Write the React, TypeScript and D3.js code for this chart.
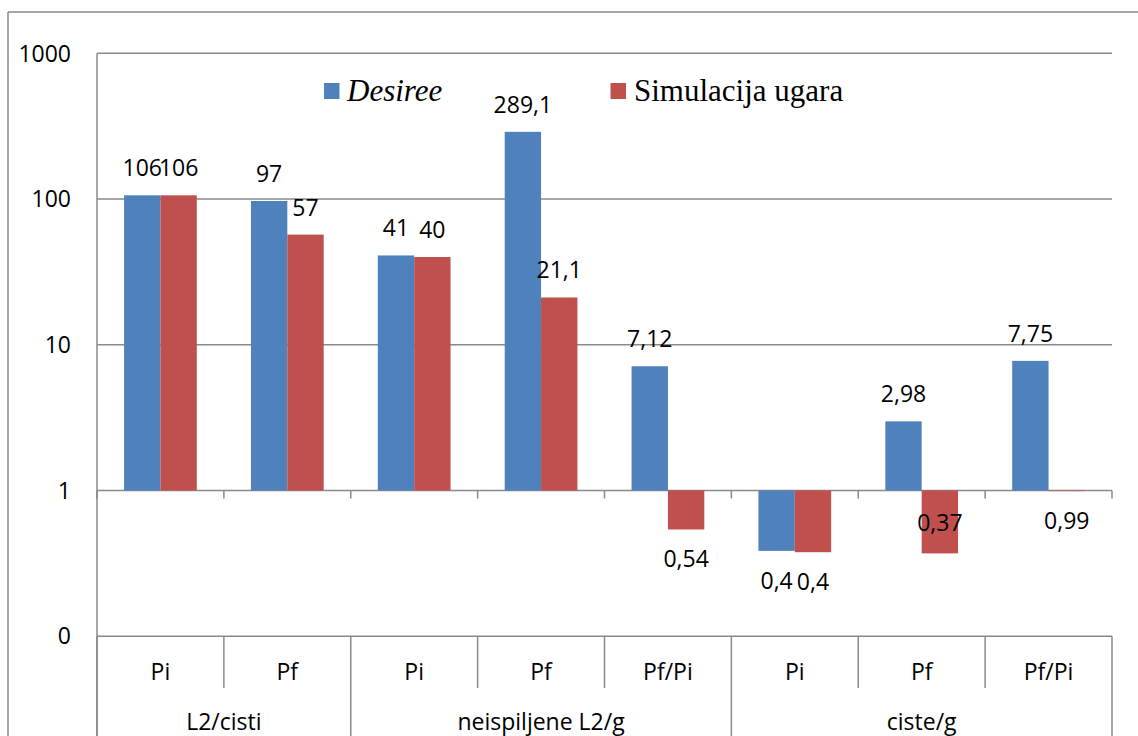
import React from "react";
import * as d3 from "d3";

const categories = ["Pi", "Pf", "Pi", "Pf", "Pf/Pi", "Pi", "Pf", "Pf/Pi"];
const groups = ["L2/cisti", "neispiljene L2/g", "ciste/g"];
const groupSizes = [2, 3, 3];
const seriesNames = ["Desiree", "Simulacija ugara"];
const desireeValues = [106, 97, 41, 289.1, 7.12, 0.385, 2.98, 7.75];
const simulacijaValues = [106, 57, 40, 21.1, 0.54, 0.377, 0.37, 0.99];
const desireeLabels = ["106", "97", "41", "289,1", "7,12", "0,4", "2,98", "7,75"];
const simulacijaLabels = ["106", "57", "40", "21,1", "0,54", "0,4", "0,37", "0,99"];
const yTicks = [0.1, 1, 10, 100, 1000];
const yTickLabels = ["0", "1", "10", "100", "1000"];

const W = 1138;
const H = 736;
const plot = { left: 97, right: 1112, top: 53.3, bottom: 636.2 };
const GRID = "#8a8a8a";
const COLORS = ["#4F81BD", "#C0504D"];
const SANS = "'Open Sans', 'Noto Sans', sans-serif";
const SERIF = "'Liberation Serif', 'Times New Roman', serif";

export default function App() {
  const y = d3.scaleLog().domain([0.1, 1000]).range([plot.bottom, plot.top]);
  const x0 = d3
    .scaleBand<number>()
    .domain(categories.map((_, i) => i))
    .range([plot.left, plot.right])
    .paddingInner(0)
    .paddingOuter(0);
  const bw = x0.bandwidth();
  const x1 = d3
    .scaleBand<string>()
    .domain(seriesNames)
    .range([bw * 0.2134, bw * 0.7866])
    .padding(0);
  const base = y(1);
  const series = [
    { name: seriesNames[0], values: desireeValues, labels: desireeLabels },
    { name: seriesNames[1], values: simulacijaValues, labels: simulacijaLabels },
  ];

  // group boundaries
  const groupBounds: { start: number; end: number; name: string }[] = [];
  let acc = 0;
  groups.forEach((g, gi) => {
    const s = acc;
    acc += groupSizes[gi];
    groupBounds.push({ start: s, end: acc, name: g });
  });
  const groupEdgeIdx = new Set<number>([0, ...groupBounds.map((g) => g.end)]);
  const catEdges = d3.range(categories.length + 1).map((i) =>
    i < categories.length ? (x0(i) as number) : plot.right
  );

  const rowCatMid = 680;
  const rowGroupBase = 730;

  return (
    <svg
      width={W}
      height={H}
      style={{ position: "absolute", left: 0, top: 0, background: "#fff" }}
      xmlns="http://www.w3.org/2000/svg"
    >
      <rect x={0} y={0} width={W} height={H} fill="#fff" />
      {/* outer chart frame */}
      <line x1={8} y1={12} x2={W} y2={12} stroke={GRID} strokeWidth={1.5} />
      <line x1={8} y1={12} x2={8} y2={H} stroke={GRID} strokeWidth={1.5} />

      {/* gridlines */}
      {yTicks.map((t) => (
        <line
          key={"g" + t}
          x1={plot.left}
          x2={plot.right}
          y1={y(t)}
          y2={y(t)}
          stroke={GRID}
          strokeWidth={1.5}
        />
      ))}
      {/* y axis line */}
      <line x1={plot.left} x2={plot.left} y1={plot.top} y2={H} stroke={GRID} strokeWidth={1.5} />
      {/* y tick labels */}
      {yTicks.map((t, i) => (
        <text
          key={"yl" + t}
          x={71}
          y={y(t)}
          dy="0.36em"
          textAnchor="end"
          fontFamily={SANS}
          fontSize={23}
          fill="#000"
        >
          {yTickLabels[i]}
        </text>
      ))}

      {/* tick marks below axis at 1 */}
      {catEdges.map((xe, i) => (
        <line key={"tk" + i} x1={xe} x2={xe} y1={base} y2={base + 8} stroke={GRID} strokeWidth={1.5} />
      ))}

      {/* category dividers */}
      {catEdges.map((xe, i) => (
        <line
          key={"cd" + i}
          x1={xe}
          x2={xe}
          y1={plot.bottom}
          y2={groupEdgeIdx.has(i) ? H : 688}
          stroke={GRID}
          strokeWidth={1.5}
        />
      ))}

      {/* bars */}
      {series.map((s, si) =>
        s.values.map((v, i) => {
          const xb = (x0(i) as number) + (x1(s.name) as number);
          const yv = y(v);
          return (
            <rect
              key={"b" + si + "-" + i}
              x={xb}
              y={Math.min(yv, base)}
              width={x1.bandwidth()}
              height={Math.abs(base - yv)}
              fill={COLORS[si]}
            />
          );
        })
      )}

      {/* data labels */}
      {series.map((s, si) =>
        s.values.map((v, i) => {
          const cx = (x0(i) as number) + (x1(s.name) as number) + x1.bandwidth() / 2;
          const yv = y(v);
          let ty = v >= 1 ? yv - 19 : yv + 38;
          if (si === 1 && i === 6) ty = yv - 22; // label placed over the bar
          return (
            <text
              key={"l" + si + "-" + i}
              x={cx}
              y={ty}
              textAnchor="middle"
              fontFamily={SANS}
              fontSize={23}
              fill="#000"
            >
              {s.labels[i]}
            </text>
          );
        })
      )}

      {/* category labels */}
      {categories.map((c, i) => (
        <text
          key={"c" + i}
          x={(x0(i) as number) + bw / 2}
          y={rowCatMid}
          textAnchor="middle"
          fontFamily={SANS}
          fontSize={23}
          fill="#000"
        >
          {c}
        </text>
      ))}
      {/* group labels */}
      {groupBounds.map((g) => (
        <text
          key={g.name}
          x={(catEdges[g.start] + catEdges[g.end]) / 2}
          y={rowGroupBase}
          textAnchor="middle"
          fontFamily={SANS}
          fontSize={23}
          fill="#000"
        >
          {g.name}
        </text>
      ))}

      {/* legend */}
      <rect x={324} y={83} width={15.5} height={16} fill={COLORS[0]} />
      <text x={347} y={101} fontFamily={SERIF} fontStyle="italic" fontSize={31} fill="#000">
        {seriesNames[0]}
      </text>
      <rect x={610.5} y={83} width={15.5} height={16} fill={COLORS[1]} />
      <text x={634} y={101} fontFamily={SERIF} fontSize={31} fill="#000">
        {seriesNames[1]}
      </text>
    </svg>
  );
}
